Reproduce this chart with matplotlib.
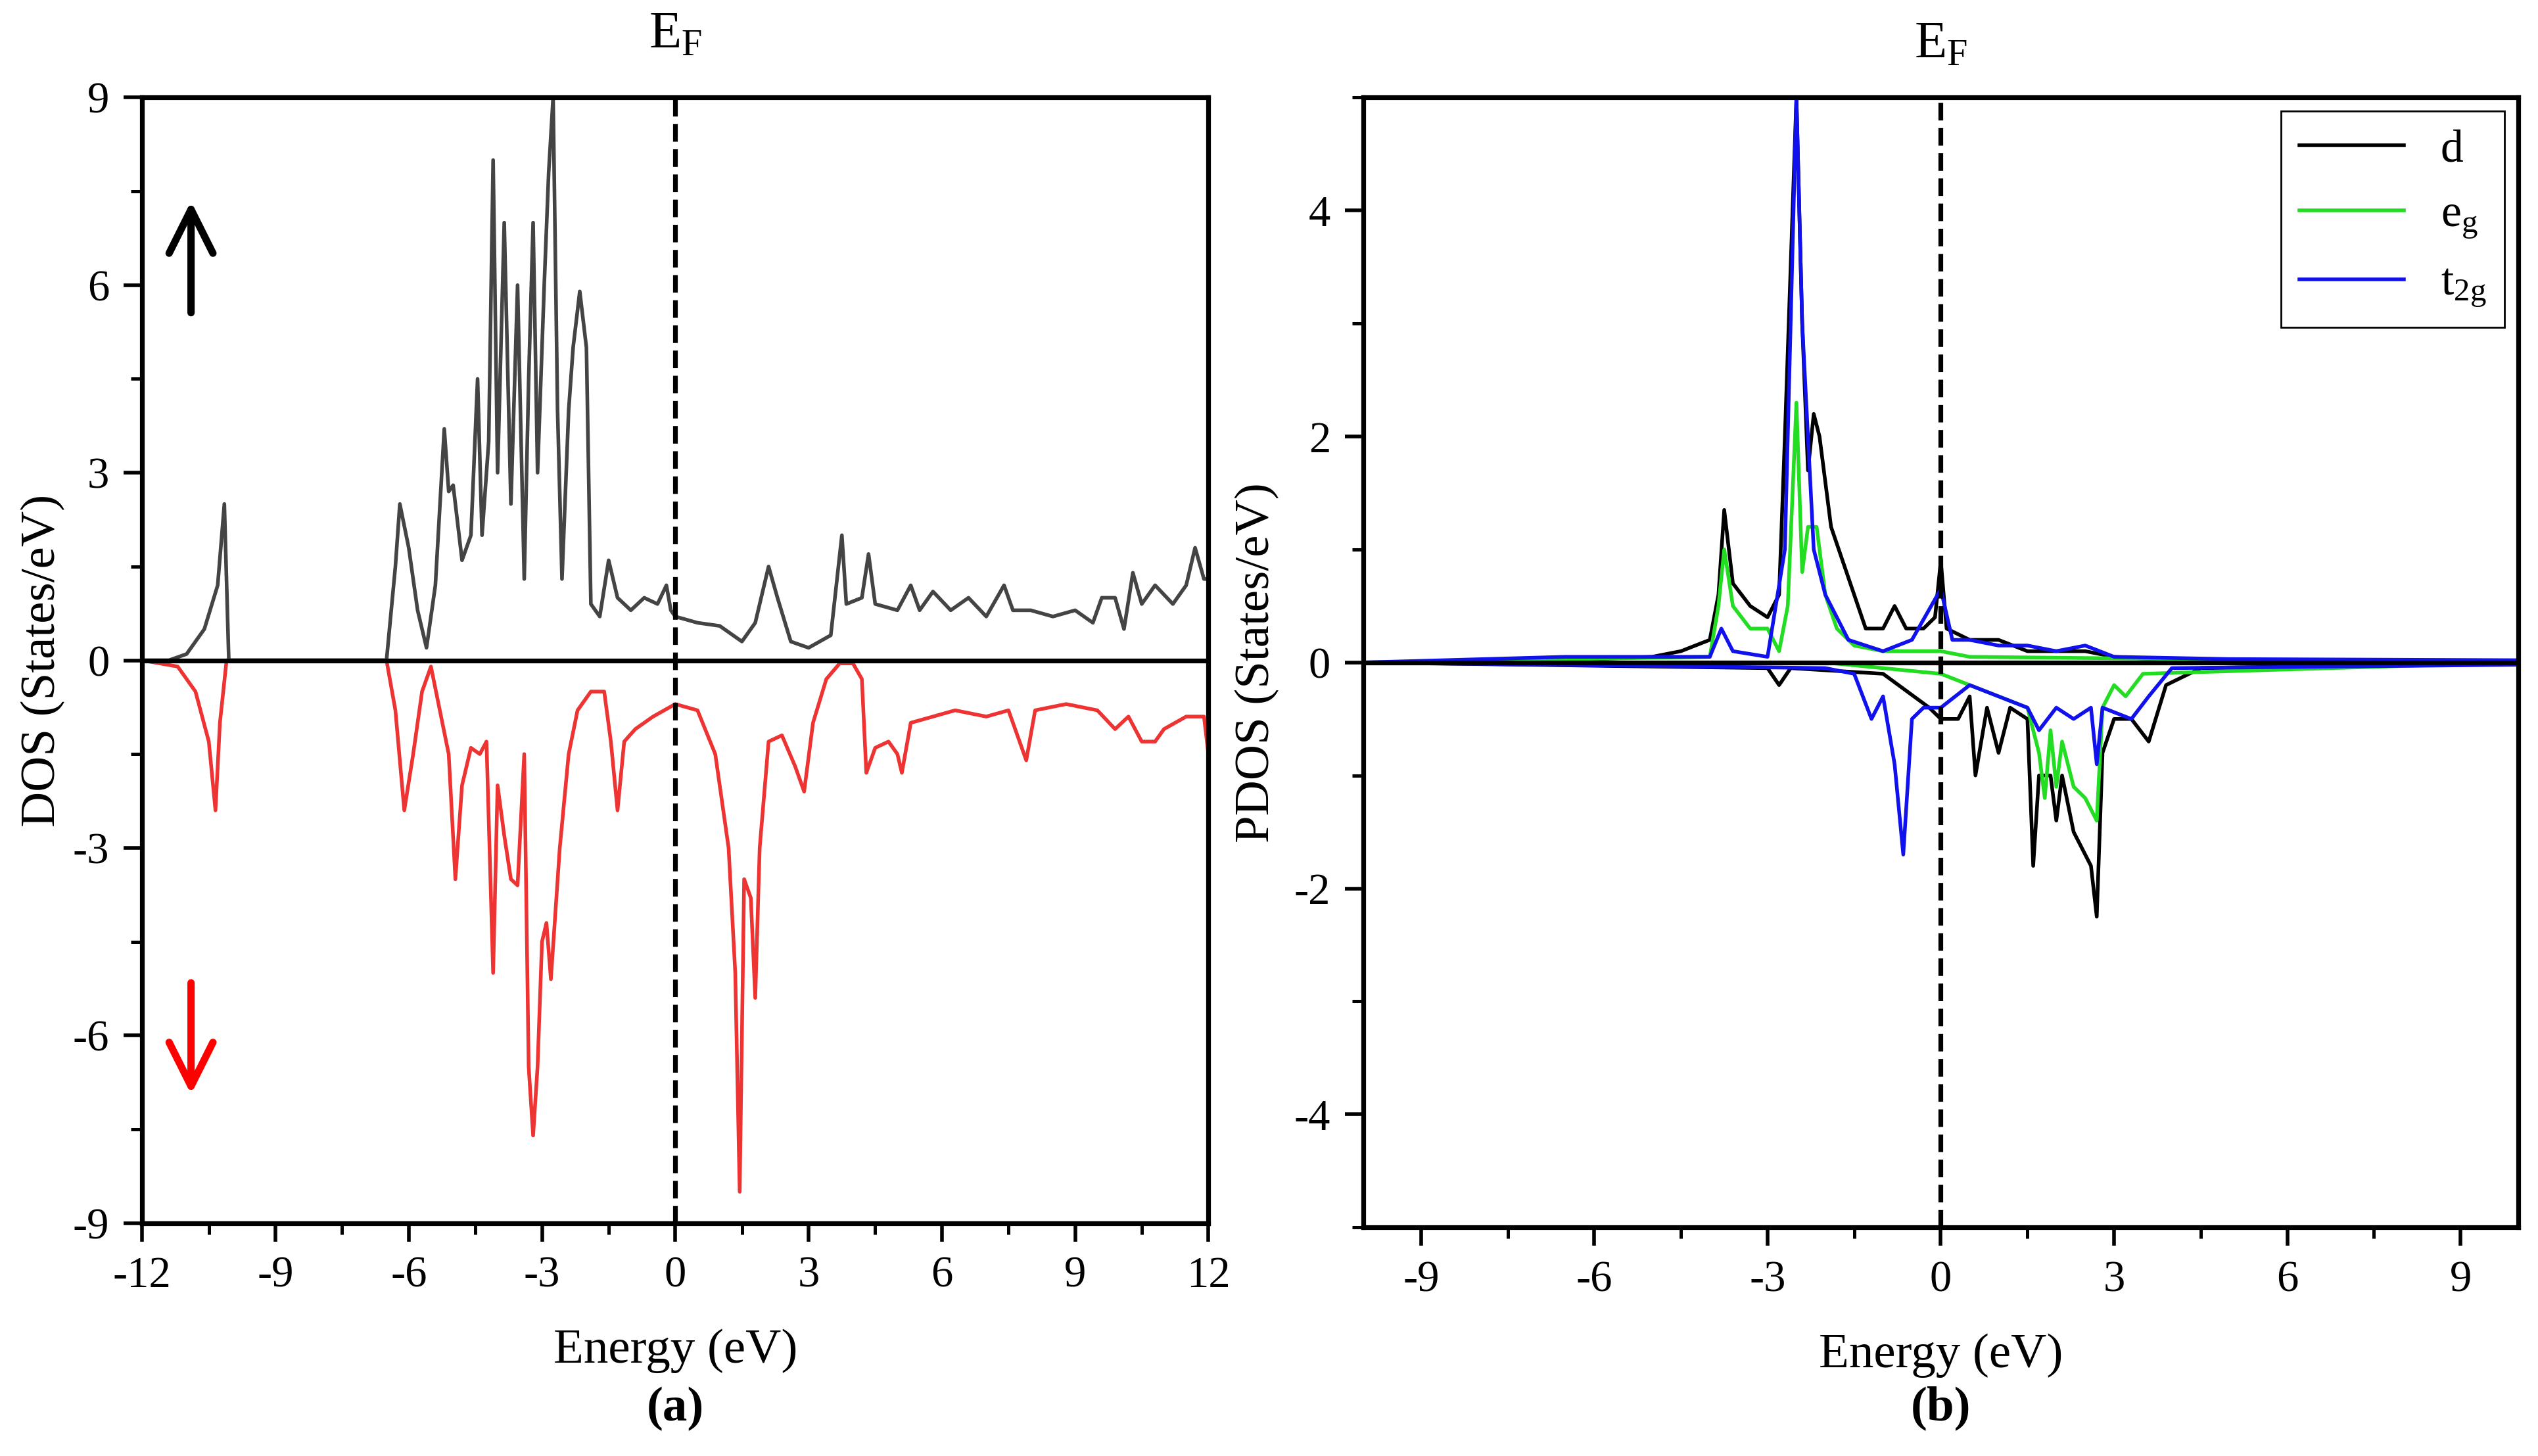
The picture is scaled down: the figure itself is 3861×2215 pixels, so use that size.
import numpy as np
import matplotlib.pyplot as plt
from matplotlib.ticker import MultipleLocator

plt.rcParams['font.family'] = 'Liberation Serif'
plt.rcParams['mathtext.fontset'] = 'custom'
plt.rcParams['mathtext.rm'] = 'Liberation Serif'
plt.rcParams['mathtext.it'] = 'Liberation Serif'
plt.rcParams['axes.unicode_minus'] = False

# ---- panel (a): total DOS ----
up_e = [-12, -11.4, -11, -10.6, -10.3, -10.15, -10.05, -6.5, -6.3, -6.2, -6.0, -5.8, -5.6, -5.4, -5.2, -5.1, -5.0,
        -4.8, -4.6, -4.45, -4.35, -4.2, -4.1, -4.0, -3.85, -3.7, -3.55, -3.4, -3.3, -3.2, -3.1, -2.95, -2.85, -2.75,
        -2.65, -2.55, -2.4, -2.3, -2.15, -2.0, -1.9, -1.7, -1.5, -1.3, -1.0, -0.7, -0.4, -0.2, -0.1, 0, 0.5, 1.0,
        1.5, 1.8, 2.1, 2.3, 2.6, 3.0, 3.5, 3.75, 3.85, 4.2, 4.35, 4.5, 5, 5.3, 5.5, 5.8, 6.2, 6.6, 7, 7.4, 7.6, 8,
        8.5, 9, 9.4, 9.6, 9.9, 10.1, 10.3, 10.5, 10.8, 11.2, 11.5, 11.7, 11.9, 12]
up_dos = [0, 0, 0.1, 0.5, 1.2, 2.5, 0, 0, 1.5, 2.5, 1.8, 0.8, 0.2, 1.2, 3.7, 2.7, 2.8,
          1.6, 2.0, 4.5, 2.0, 3.5, 8.0, 3.0, 7.0, 2.5, 6.0, 1.3, 4.5, 7.0, 3.0, 6.0, 7.8, 9.0,
          4.0, 1.3, 4.0, 5.0, 5.9, 5.0, 0.9, 0.7, 1.6, 1.0, 0.8, 1.0, 0.9, 1.2, 0.8, 0.7, 0.6, 0.55,
          0.3, 0.6, 1.5, 1.0, 0.3, 0.2, 0.4, 2.0, 0.9, 1.0, 1.7, 0.9, 0.8, 1.2, 0.8, 1.1, 0.8, 1.0, 0.7, 1.2, 0.8, 0.8,
          0.7, 0.8, 0.6, 1.0, 1.0, 0.5, 1.4, 0.9, 1.2, 0.9, 1.2, 1.8, 1.3, 1.3]
dn_e = [-12, -11.2, -10.8, -10.5, -10.35, -10.25, -10.1, -6.5, -6.3, -6.1, -5.9, -5.7, -5.5, -5.3, -5.1, -4.95,
        -4.8, -4.6, -4.4, -4.25, -4.1, -4.0, -3.85, -3.7, -3.55, -3.4, -3.3, -3.2, -3.1, -3.0, -2.9, -2.8, -2.6,
        -2.4, -2.2, -1.9, -1.6, -1.45, -1.3, -1.15, -0.9, -0.5, 0, 0.5, 0.9, 1.2, 1.35, 1.45, 1.55, 1.7, 1.8, 1.9,
        2.1, 2.4, 2.7, 2.9, 3.1, 3.4, 3.7, 4.0, 4.2, 4.3, 4.5, 4.8, 5.0, 5.1, 5.3, 5.8, 6.3, 7, 7.5, 7.9, 8.1, 8.8,
        9.5, 9.9, 10.2, 10.5, 10.8, 11, 11.5, 11.9, 12]
dn_dos = [0, -0.1, -0.5, -1.3, -2.4, -1.0, 0, 0, -0.8, -2.4, -1.5, -0.5, -0.1, -0.8, -1.5, -3.5,
          -2.0, -1.4, -1.5, -1.3, -5.0, -2.0, -2.8, -3.5, -3.6, -1.5, -6.5, -7.6, -6.5, -4.5, -4.2, -5.1, -3.0,
          -1.5, -0.8, -0.5, -0.5, -1.3, -2.4, -1.3, -1.1, -0.9, -0.7, -0.8, -1.5, -3.0, -5.0, -8.5, -3.5, -3.8, -5.4, -3.0,
          -1.3, -1.2, -1.7, -2.1, -1.0, -0.3, -0.05, -0.05, -0.3, -1.8, -1.4, -1.3, -1.5, -1.8, -1.0, -0.9, -0.8, -0.9, -0.8, -1.6, -0.8, -0.7,
          -0.8, -1.1, -0.9, -1.3, -1.3, -1.1, -0.9, -0.9, -1.5]

# ---- panel (b): PDOS ----
d_up_e = [-10, -7, -6.5, -5, -4.5, -4, -3.85, -3.75, -3.6, -3.3, -3.0, -2.8, -2.7, -2.6, -2.5, -2.4, -2.3, -2.2,
          -2.1, -1.9, -1.7, -1.5, -1.3, -1.0, -0.8, -0.6, -0.3, -0.1, 0, 0.1, 0.5, 1.0, 1.5, 2, 2.5, 3, 4, 10]
d_up = [0, 0, 0.02, 0.05, 0.1, 0.2, 0.6, 1.35, 0.7, 0.5, 0.4, 0.6, 2.0, 3.5, 5, 3.0, 1.7, 2.2,
        2.0, 1.2, 0.9, 0.6, 0.3, 0.3, 0.5, 0.3, 0.3, 0.4, 0.9, 0.3, 0.2, 0.2, 0.1, 0.1, 0.1, 0.05, 0.02, 0]
d_dn_e = [-10, -3, -2.8, -2.6, -1, -0.2, 0, 0.3, 0.5, 0.6, 0.8, 1.0, 1.2, 1.5, 1.6, 1.7, 1.9, 2.0, 2.1, 2.3,
          2.5, 2.6, 2.7, 2.8, 3.0, 3.3, 3.6, 3.9, 4.5, 10]
d_dn = [0, -0.05, -0.2, -0.05, -0.1, -0.4, -0.5, -0.5, -0.3, -1.0, -0.4, -0.8, -0.4, -0.5, -1.8, -1.0, -1.0, -1.4, -1.0, -1.5,
        -1.7, -1.8, -2.25, -0.8, -0.5, -0.5, -0.7, -0.2, -0.05, 0]
eg_up_e = [-10, -4, -3.85, -3.75, -3.6, -3.3, -3.0, -2.8, -2.65, -2.5, -2.4, -2.3, -2.15, -2.0, -1.8, -1.5, -1, 0, 0.5, 10]
eg_up = [0, 0.05, 0.5, 1.0, 0.5, 0.3, 0.3, 0.1, 0.5, 2.3, 0.8, 1.2, 1.2, 0.6, 0.3, 0.15, 0.1, 0.1, 0.05, 0]
eg_dn_e = [-10, -2, -1, 0, 0.5, 1, 1.5, 1.7, 1.8, 1.9, 2.0, 2.1, 2.3, 2.5, 2.7, 2.8, 3.0, 3.2, 3.5, 10]
eg_dn = [0, 0, -0.05, -0.1, -0.2, -0.3, -0.4, -0.8, -1.2, -0.6, -1.1, -0.7, -1.1, -1.2, -1.4, -0.4, -0.2, -0.3, -0.1, 0]
t2g_up_e = [-10, -6.5, -4, -3.8, -3.6, -3, -2.7, -2.6, -2.5, -2.4, -2.3, -2.2, -2.0, -1.8, -1.6, -1.0, -0.5, 0,
            0.2, 0.5, 1.0, 1.5, 2.0, 2.5, 3.0, 5, 10]
t2g_up = [0, 0.05, 0.05, 0.3, 0.1, 0.05, 1.0, 3.0, 5, 3.0, 2.0, 1.0, 0.6, 0.4, 0.2, 0.1, 0.2, 0.65,
          0.2, 0.2, 0.15, 0.15, 0.1, 0.15, 0.05, 0.03, 0.02]
t2g_dn_e = [-10, -2, -1.5, -1.2, -1.0, -0.8, -0.65, -0.5, -0.3, 0, 0.5, 1.0, 1.5, 1.7, 2, 2.3, 2.6, 2.7, 2.8,
            3.3, 3.6, 4, 10]
t2g_dn = [0, -0.05, -0.1, -0.5, -0.3, -0.9, -1.7, -0.5, -0.4, -0.4, -0.2, -0.3, -0.4, -0.6, -0.4, -0.5, -0.4, -0.9, -0.4,
          -0.5, -0.3, -0.05, -0.02]

fig = plt.figure(figsize=(19.31, 11.075), dpi=200)
ax1 = fig.add_axes([0.056, 0.160, 0.420, 0.773])
ax2 = fig.add_axes([0.537, 0.157, 0.455, 0.776])

fs = 25
lw = 2.0
ax1.plot(up_e, up_dos, color='#444444', lw=lw)
ax1.plot(dn_e, dn_dos, color='#ee3333', lw=lw)
ax1.axhline(0, color='black', lw=2.6)
ax1.axvline(0, color='black', lw=2.6, ls='--')
ax1.set_xlim(-12, 12)
ax1.set_ylim(-9, 9)
ax1.set_xticks(np.arange(-12, 13, 3))
ax1.set_yticks(np.arange(-9, 10, 3))
ax1.xaxis.set_minor_locator(MultipleLocator(1.5))
ax1.yaxis.set_minor_locator(MultipleLocator(1.5))
ax1.set_xlabel('Energy (eV)', fontsize=fs + 2, labelpad=18)
ax1.set_ylabel('DOS (States/eV)', fontsize=fs + 2, labelpad=4)
ax1.annotate('', xy=(-10.9, 7.4), xytext=(-10.9, 5.5),
             arrowprops=dict(arrowstyle='->', color='black', lw=4, mutation_scale=60))
ax1.annotate('', xy=(-10.9, -7.0), xytext=(-10.9, -5.1),
             arrowprops=dict(arrowstyle='->', color='red', lw=4, mutation_scale=60))
ax1.text(0, 9.6, r'E$_\mathrm{F}$', ha='center', va='bottom', fontsize=fs + 4)
ax1.text(0.5, -0.145, '(a)', transform=ax1.transAxes, ha='center', va='top', fontsize=fs + 2, fontweight='bold')

ax2.plot(d_up_e, d_up, color='black', lw=lw, label='d')
ax2.plot(d_dn_e, d_dn, color='black', lw=lw)
ax2.plot(eg_up_e, eg_up, color='#22dd22', lw=lw, label=r'e$_\mathrm{g}$')
ax2.plot(eg_dn_e, eg_dn, color='#22dd22', lw=lw)
ax2.plot(t2g_up_e, t2g_up, color='#1111ee', lw=lw, label=r't$_\mathrm{2g}$')
ax2.plot(t2g_dn_e, t2g_dn, color='#1111ee', lw=lw)
ax2.axhline(0, color='black', lw=2.6)
ax2.axvline(0, color='black', lw=2.6, ls='--')
ax2.set_xlim(-10, 10)
ax2.set_ylim(-5, 5)
ax2.set_xticks(np.arange(-9, 10, 3))
ax2.set_yticks(np.arange(-4, 5, 2))
ax2.xaxis.set_minor_locator(MultipleLocator(1.5))
ax2.yaxis.set_minor_locator(MultipleLocator(1))
ax2.set_xlabel('Energy (eV)', fontsize=fs + 2, labelpad=18)
ax2.set_ylabel('PDOS (States/eV)', fontsize=fs + 2, labelpad=8)
ax2.text(0, 5.25, r'E$_\mathrm{F}$', ha='center', va='bottom', fontsize=fs + 4)
ax2.text(0.5, -0.14, '(b)', transform=ax2.transAxes, ha='center', va='top', fontsize=fs + 2, fontweight='bold')
ax2.legend(loc='upper right', fontsize=fs, fancybox=False, edgecolor='black', framealpha=1,
           handlelength=2.3, borderaxespad=0.3, labelspacing=0.5)

for ax in (ax1, ax2):
    ax.tick_params(labelsize=fs - 1, width=2, length=10, pad=8)
    ax.tick_params(which='minor', width=1.8, length=6)
    for s in ax.spines.values():
        s.set_linewidth(2.6)

fig.savefig('out.png')
